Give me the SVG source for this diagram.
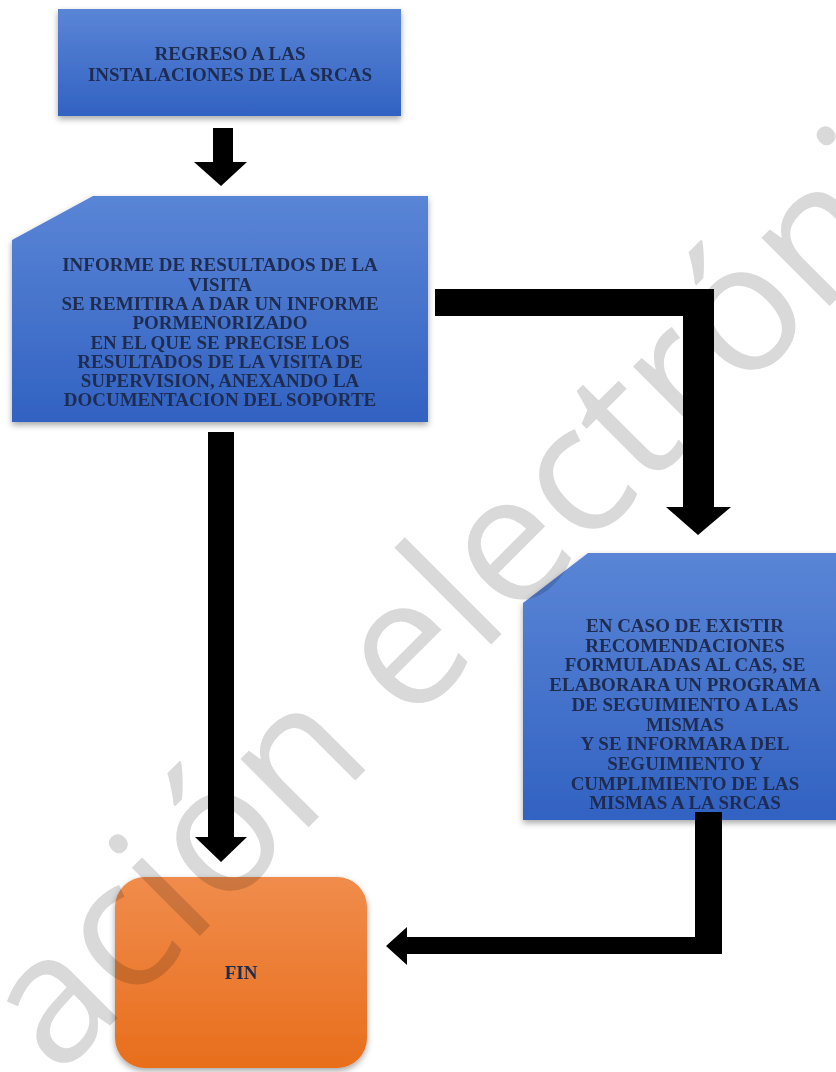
<svg xmlns="http://www.w3.org/2000/svg" width="836" height="1072" viewBox="0 0 836 1072">
<defs>
<linearGradient id="gBlue" x1="0" y1="0" x2="0" y2="1">
<stop offset="0" stop-color="#5a85d6"/>
<stop offset="1" stop-color="#3262c2"/>
</linearGradient>
<linearGradient id="gOrange" x1="0" y1="0" x2="0" y2="1">
<stop offset="0" stop-color="#f08c4c"/>
<stop offset="1" stop-color="#e86e1c"/>
</linearGradient>
<filter id="shadow" x="-10%" y="-10%" width="120%" height="125%">
<feDropShadow dx="0" dy="3" stdDeviation="3" flood-color="#000" flood-opacity="0.35"/>
</filter>
</defs>
<style>
.lbl{font-family:"Liberation Serif","Times New Roman",serif;font-weight:bold;font-size:19px;fill:#1e2c52;text-anchor:middle;}
.arrow{fill:#000;}
.wm{font-family:"Open Sans","Liberation Sans",sans-serif;font-weight:normal;font-size:180px;fill:#d9d9d9;mix-blend-mode:multiply;}
</style>
<rect width="836" height="1072" fill="#fff"/>

<g id="node-regreso">
<rect x="58" y="9" width="343" height="107" fill="url(#gBlue)" filter="url(#shadow)"/>
<text class="lbl" x="230" y="60">REGRESO A LAS</text>
<text class="lbl" x="230" y="81">INSTALACIONES DE LA SRCAS</text>
</g>

<g id="node-informe">
<polygon points="93,196 428,196 428,422 12,422 12,240" fill="url(#gBlue)" filter="url(#shadow)"/>
<text class="lbl" x="220" y="271">INFORME DE RESULTADOS DE LA</text>
<text class="lbl" x="220" y="290.5">VISITA</text>
<text class="lbl" x="220" y="310">SE REMITIRA A DAR UN INFORME</text>
<text class="lbl" x="220" y="329">PORMENORIZADO</text>
<text class="lbl" x="220" y="348.5">EN EL QUE SE PRECISE LOS</text>
<text class="lbl" x="220" y="367.5">RESULTADOS DE LA VISITA DE</text>
<text class="lbl" x="220" y="387">SUPERVISION, ANEXANDO LA</text>
<text class="lbl" x="220" y="406">DOCUMENTACION DEL SOPORTE</text>
</g>

<g id="node-recomendaciones">
<polygon points="588,553 846,553 846,820 523,820 523,603" fill="url(#gBlue)" filter="url(#shadow)"/>
<text class="lbl" x="685" y="632">EN CASO DE EXISTIR</text>
<text class="lbl" x="685" y="651.7">RECOMENDACIONES</text>
<text class="lbl" x="685" y="671.4">FORMULADAS AL CAS, SE</text>
<text class="lbl" x="685" y="691.1">ELABORARA UN PROGRAMA</text>
<text class="lbl" x="685" y="710.8">DE SEGUIMIENTO A LAS</text>
<text class="lbl" x="685" y="730.5">MISMAS</text>
<text class="lbl" x="685" y="750.2">Y SE INFORMARA DEL</text>
<text class="lbl" x="685" y="769.9">SEGUIMIENTO Y</text>
<text class="lbl" x="685" y="789.6">CUMPLIMIENTO DE LAS</text>
<text class="lbl" x="685" y="809.3">MISMAS A LA SRCAS</text>
</g>

<g id="node-fin">
<rect x="115" y="877" width="252" height="191" rx="30" ry="30" fill="url(#gOrange)" filter="url(#shadow)"/>
<text class="lbl" x="241" y="979">FIN</text>
</g>

<g id="connectors">
<polygon class="arrow" points="213,128 233,128 233,162 247,162 221,186 194,162 213,162"/>
<polygon class="arrow" points="208,432 234,432 234,837 247,837 221,862 195,837 208,837"/>
<polygon class="arrow" points="435,289 714,289 714,507 731,507 698,535 666,507 683,507 683,316 435,316"/>
<polygon class="arrow" points="695,812 722,812 722,954 407,954 407,965 386,946 407,927 407,937 695,937"/>
</g>

<text class="wm" transform="rotate(-45)" x="-722" y="803">ación electróni</text>
</svg>
